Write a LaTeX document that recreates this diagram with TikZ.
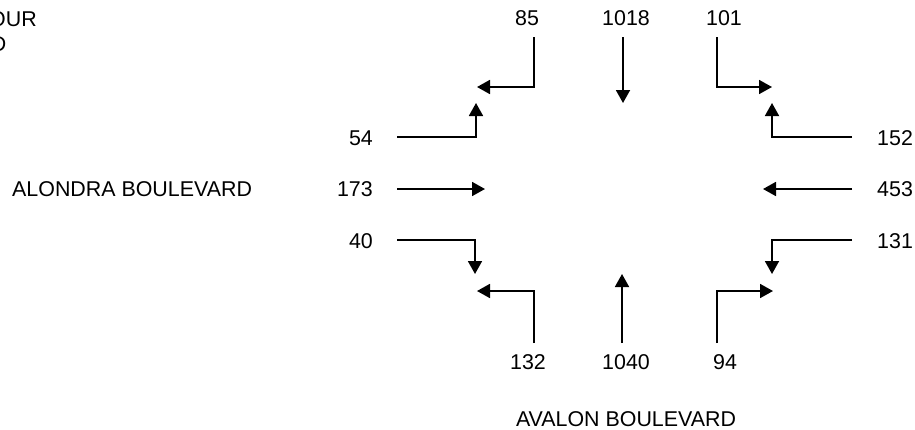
\documentclass[tikz,border=0pt]{standalone}
\usepackage{fontspec}
\setmainfont{Liberation Sans}
\usetikzlibrary{arrows.meta}
\begin{document}
\begin{tikzpicture}[x=1pt,y=-1pt,
  mv/.style={line width=1.8pt,-{Triangle[length=13pt,width=14pt]}},
  lbl/.style={font=\fontsize{21.4}{25}\selectfont,inner sep=0pt}]
\useasboundingbox (0,0) rectangle (915,429);
\begin{scope}
\clip (0,0) rectangle (915,429);
\node[lbl,anchor=base east] (cuta) at (37,26) {OUR};
\node[lbl,anchor=base east] (cutb) at (6.5,51) {D};
\end{scope}
% labels north
\node[lbl,anchor=base] (n85) at (527,25) {85};
\node[lbl,anchor=base] (n1018) at (626,25) {1018};
\node[lbl,anchor=base] (n101) at (724,25) {101};
% labels west
\node[lbl,anchor=base east] (w54) at (373,145) {54};
\node[lbl,anchor=base east] (w173) at (373,196) {173};
\node[lbl,anchor=base east] (w40) at (373,248) {40};
% labels east
\node[lbl,anchor=base west] (e152) at (877,145) {152};
\node[lbl,anchor=base west] (e453) at (877,196) {453};
\node[lbl,anchor=base west] (e131) at (877,248) {131};
% labels south
\node[lbl,anchor=base] (s132) at (528,369) {132};
\node[lbl,anchor=base] (s1040) at (626,369) {1040};
\node[lbl,anchor=base] (s94) at (725,369) {94};
% street names
\node[lbl,anchor=base west] (alondra) at (12,196) {ALONDRA BOULEVARD};
\node[lbl,anchor=base] (avalon) at (626,426.5) {AVALON BOULEVARD};
% arrow coordinates
\coordinate (a85) at (534,37);  \coordinate (t85) at (477,87);
\coordinate (a1018) at (623,37); \coordinate (t1018) at (623,103);
\coordinate (a101) at (717,37); \coordinate (t101) at (772,87);
\coordinate (a54) at (397,137); \coordinate (t54) at (476,103);
\coordinate (a173) at (397,189); \coordinate (t173) at (485,189);
\coordinate (a40) at (397,240); \coordinate (t40) at (475,274);
\coordinate (a152) at (852,137); \coordinate (t152) at (772,103);
\coordinate (a453) at (852,189); \coordinate (t453) at (763,189);
\coordinate (a131) at (852,240); \coordinate (t131) at (772,274);
\coordinate (a132) at (534,343); \coordinate (t132) at (477,291);
\coordinate (a1040) at (622,343); \coordinate (t1040) at (622,274);
\coordinate (a94) at (717,343); \coordinate (t94) at (773,291);
% arrows
\draw[mv] (a85) |- (t85);
\draw[mv] (a1018) -- (t1018);
\draw[mv] (a101) |- (t101);
\draw[mv] (a54) -| (t54);
\draw[mv] (a173) -- (t173);
\draw[mv] (a40) -| (t40);
\draw[mv] (a152) -| (t152);
\draw[mv] (a453) -- (t453);
\draw[mv] (a131) -| (t131);
\draw[mv] (a132) |- (t132);
\draw[mv] (a1040) -- (t1040);
\draw[mv] (a94) |- (t94);
\end{tikzpicture}
\end{document}
